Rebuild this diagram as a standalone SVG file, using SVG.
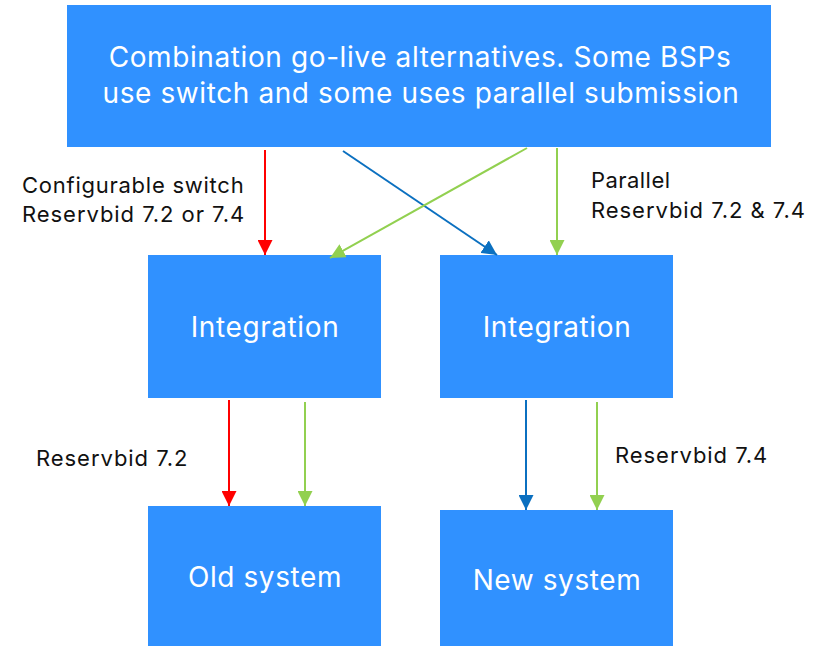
<svg xmlns="http://www.w3.org/2000/svg" width="827" height="648" viewBox="0 0 827 648">
<style>
.box{fill:#3091FF;}
.nt{font-family:Inter,"Liberation Sans",sans-serif;font-size:28px;letter-spacing:0.6px;fill:#FFFFFF;text-anchor:middle;}
.lb{font-family:Inter,"Liberation Sans",sans-serif;font-size:22px;letter-spacing:0.95px;fill:#111111;}
.r{stroke:#FF0000;stroke-width:2;fill:none;}
.b{stroke:#0B70C0;stroke-width:2;fill:none;}
.g{stroke:#92D050;stroke-width:2;fill:none;}
</style>
<defs>
<marker id="mb" viewBox="0 0 10 10" refX="10" refY="5" markerWidth="15" markerHeight="15" markerUnits="userSpaceOnUse" orient="auto"><path d="M0,0 L10,5 L0,10 z" fill="#0B70C0"/></marker>
<marker id="mg" viewBox="0 0 10 10" refX="10" refY="5" markerWidth="15" markerHeight="15" markerUnits="userSpaceOnUse" orient="auto"><path d="M0,0 L10,5 L0,10 z" fill="#92D050"/></marker>
<marker id="mr" viewBox="0 0 10 10" refX="10" refY="5" markerWidth="15" markerHeight="15" markerUnits="userSpaceOnUse" orient="auto"><path d="M0,0 L10,5 L0,10 z" fill="#FF0000"/></marker>
</defs>
<rect width="827" height="648" fill="#FFFFFF"/>
<g id="top">
<rect class="box" x="67" y="5" width="704" height="142"/>
<text class="nt" x="420" y="67">Combination go-live alternatives. Some BSPs</text>
<text class="nt" x="421" y="103">use switch and some uses parallel submission</text>
</g>
<g id="integration-left">
<rect class="box" x="148" y="255" width="233" height="143"/>
<text class="nt" x="265" y="337">Integration</text>
</g>
<g id="integration-right">
<rect class="box" x="440" y="255" width="233" height="143"/>
<text class="nt" x="557" y="337">Integration</text>
</g>
<g id="old-system">
<rect class="box" x="148" y="506" width="233" height="140"/>
<text class="nt" x="265" y="587">Old system</text>
</g>
<g id="new-system">
<rect class="box" x="440" y="510" width="233" height="136"/>
<text class="nt" x="557" y="590">New system</text>
</g>
<g id="connectors">
<line class="r" x1="265" y1="150" x2="265" y2="255" marker-end="url(#mr)"/>
<line class="b" x1="343" y1="151" x2="497" y2="255" marker-end="url(#mb)"/>
<line class="g" x1="527" y1="148" x2="330" y2="258" marker-end="url(#mg)"/>
<line class="g" x1="557" y1="148" x2="557" y2="255" marker-end="url(#mg)"/>
<line class="r" x1="229" y1="400" x2="229" y2="506" marker-end="url(#mr)"/>
<line class="g" x1="305" y1="402" x2="305" y2="506" marker-end="url(#mg)"/>
<line class="b" x1="526" y1="400" x2="526" y2="510" marker-end="url(#mb)"/>
<line class="g" x1="597" y1="402" x2="597" y2="510" marker-end="url(#mg)"/>
</g>
<g id="labels">
<text class="lb" x="22" y="193" style="letter-spacing:0.75px">Configurable switch</text>
<text class="lb" x="22" y="222">Reservbid 7.2 or 7.4</text>
<text class="lb" x="591" y="188" style="letter-spacing:0.45px">Parallel</text>
<text class="lb" x="591" y="218">Reservbid 7.2 &amp; 7.4</text>
<text class="lb" x="36" y="466">Reservbid 7.2</text>
<text class="lb" x="615" y="463">Reservbid 7.4</text>
</g>
</svg>
